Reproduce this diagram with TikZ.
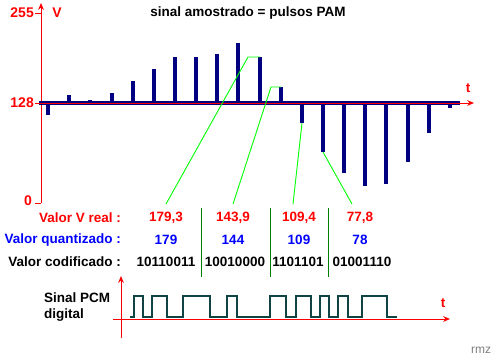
\documentclass[tikz,border=0pt]{standalone}
\usepackage{fontspec}
\setmainfont{Liberation Sans}
\usetikzlibrary{arrows.meta}

\definecolor{pamblue}{RGB}{0,0,128}
\definecolor{quantblue}{RGB}{0,0,255}
\definecolor{linkgreen}{RGB}{0,255,0}
\definecolor{sepgreen}{RGB}{0,128,0}
\definecolor{pcmteal}{RGB}{16,68,68}

\begin{document}
\begin{tikzpicture}[x=1pt,y=-1pt,
    txt/.style={font=\fontsize{13.5}{16}\selectfont\bfseries, inner sep=0pt},
    axisnum/.style={font=\fontsize{14}{16}\selectfont\bfseries, text=red, inner sep=0pt},
    redaxis/.style={red, line width=1pt},
    pulse/.style={pamblue, line width=3.5pt},
    link/.style={linkgreen, line width=0.9pt},
    sep/.style={sepgreen, line width=1pt},
    pcm/.style={pcmteal, line width=2pt}]
    \useasboundingbox[fill=white] (0,0) rectangle (500,360);

    % upper plot: PAM samples
    \node[txt] (title) at (248,13) {sinal amostrado = pulsos PAM};
    \draw[redaxis, -{Stealth[length=2.4mm, width=2mm]}] (41,203) -- (41,3);
    \draw[redaxis] (35,13) -- (41,13);
    \draw[redaxis] (35,103) -- (41,103);
    \draw[redaxis] (35,203) -- (41,203);
    \node[axisnum, anchor=east] (lblmax) at (34,13) {255};
    \node[axisnum, anchor=east] (lblmid) at (34,103) {128};
    \node[axisnum, anchor=east] (lblzero) at (32,201) {0};
    \node[axisnum] (lblV) at (57,13) {V};

    \foreach \px/\py [count=\k] in {48/115, 69/95, 90/100, 112/93, 133/81,
        154/69, 175/57, 196/57, 217/54, 238/43, 260/57, 281/87, 302/123,
        323/152, 344/173, 365/186, 386/184, 408/162, 429/133, 450/108}
        \draw[pulse] (\px,103) -- (\px,\py) coordinate (p\k);

    \draw[pamblue, line width=4pt] (39,103) -- (460,103);
    \draw[redaxis, -{Stealth[length=2.4mm, width=2mm]}] (39,103) -- (474,103);
    \node[txt, text=red] (lblt) at (468,88) {t};

    % table of values
    \node[txt, text=red, anchor=east] (rowreal) at (121,218) {Valor V real :};
    \node[txt, text=quantblue, anchor=east] (rowquant) at (121,240) {Valor quantizado :};
    \node[txt, anchor=east] (rowcode) at (121,262) {Valor codificado :};

    \node[txt, text=red] (v1) at (166,218) {179,3};
    \node[txt, text=red] (v2) at (233,218) {143,9};
    \node[txt, text=red] (v3) at (299,218) {109,4};
    \node[txt, text=red] (v4) at (360,218) {77,8};

    \node[txt, text=quantblue] (q1) at (166,240) {179};
    \node[txt, text=quantblue] (q2) at (233,240) {144};
    \node[txt, text=quantblue] (q3) at (299,240) {109};
    \node[txt, text=quantblue] (q4) at (360,240) {78};

    \node[txt] (c1) at (166,262) {10110011};
    \node[txt] (c2) at (235,262) {10010000};
    \node[txt] (c3) at (298,262) {1101101};
    \node[txt] (c4) at (362,262) {01001110};

    \draw[sep] (201,208) -- (201,277);
    \draw[sep] (270,208) -- (270,277);
    \draw[sep] (328,208) -- (328,277);

    % links from samples to values
    \draw[link] (p11) -- ++(-12,0) -- ([yshift=8pt]v1.north);
    \draw[link] (p12) -- ++(-10,0) -- ([yshift=8pt]v2.north);
    \draw[link] (p13) -- ([xshift=-6pt,yshift=8pt]v3.north);
    \draw[link] (p14) -- ([xshift=-8pt,yshift=8pt]v4.north);

    % lower plot: PCM signal
    \node[txt, align=left, anchor=west] (lblpcm) at (44,307.5) {Sinal PCM\\[0pt]digital};
    \draw[redaxis, -{Stealth[length=2.4mm, width=2mm]}] (121,338) -- (121,276);
    \draw[redaxis, -{Stealth[length=2.4mm, width=2mm]}] (113,319) -- (450,319);
    \node[txt, text=red] (lbltpcm) at (443,303) {t};

    \draw[pcm] (130,317) -| (134,296) -| (143,317) -| (152,296) -| (167,317)
        -| (183,296) -| (210,317) -| (227,296) -| (237,317) -| (270,296)
        -| (286,317) -| (296,296) -| (311,317) -| (320,296) -| (329,317)
        -| (338,296) -| (348,317) -| (362,296) -| (387,317) -- (397,317);

    \node[font=\fontsize{12}{14}\selectfont, text=gray, inner sep=0pt] (sign) at (481,350) {rmz};
\end{tikzpicture}
\end{document}
